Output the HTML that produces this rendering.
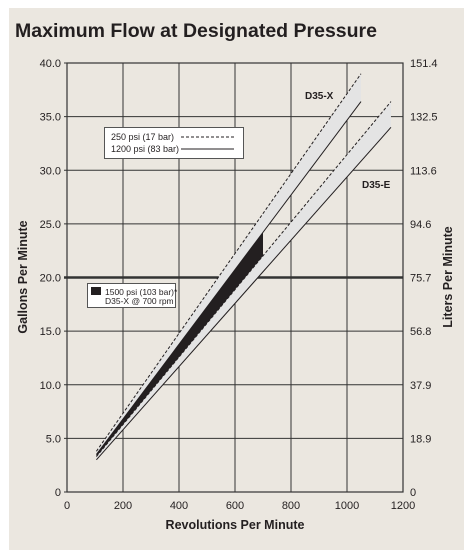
<!DOCTYPE html>
<html><head><meta charset="utf-8"><style>
body{margin:0;background:#fff;width:468px;height:554px;overflow:hidden;font-family:"Liberation Sans",sans-serif}
#panel{position:absolute;left:9px;top:8px;width:455px;height:542px;background:#ebe7e0}
svg{position:absolute;left:0;top:0}
</style></head><body>
<div id="panel"></div>
<svg id="c" width="468" height="554">
<text x="15" y="37" font-size="19.5" font-weight="bold" fill="#231f20" textLength="362">Maximum Flow at Designated Pressure</text>
</svg>
<script>
const xTicks=[0,200,400,600,800,1000,1200];
const yTicks=[0,5,10,15,20,25,30,35,40];
const yTickLabels=["0","5.0","10.0","15.0","20.0","25.0","30.0","35.0","40.0"];
const rightLabels=["0","18.9","37.9","56.8","75.7","94.6","113.6","132.5","151.4"];
const rpmRange=[105,1050];
const x250=[3.8,39.0];
const x1200=[3.5,36.4];
const eRange=[105,1157];
const e250=[3.3,36.4];
const e1200=[3.0,34.0];
const blackEnd=700;
const L=67,R=403,T=63,B=492;
const sx=v=>L+(v/1200)*(R-L), sy=v=>B-(v/40)*(B-T);
const svg=document.getElementById('c');const NS='http://www.w3.org/2000/svg';
function el(t,a,p){const e=document.createElementNS(NS,t);for(const k in a)e.setAttribute(k,a[k]);(p||svg).appendChild(e);return e;}
const lerp=(r,v,x)=>v[0]+(v[1]-v[0])*(x-r[0])/(r[1]-r[0]);
xTicks.forEach((t,i)=>{
 const g=el('line',{x1:sx(t),x2:sx(t),y1:T,y2:B,stroke:'#333','stroke-width':1});
 
 
 const tx=el('text',{x:sx(t),y:B+17,'font-size':11,'text-anchor':'middle',fill:'#231f20'});tx.textContent=t;
 
 
});
yTicks.forEach((t,i)=>{
 const g=el('line',{x1:L-3,x2:R,y1:sy(t),y2:sy(t),stroke:'#333','stroke-width':t==20?2.5:1});
 
 
 const tx=el('text',{x:L-6,y:sy(t)+4,'font-size':11,'text-anchor':'end',fill:'#231f20'});tx.textContent=yTickLabels[i];
 
 
 const rx=el('text',{x:R+7,y:sy(t)+4,'font-size':11,fill:'#231f20'});rx.textContent=rightLabels[i];
 
 
});
el('rect',{x:L,y:T,width:R-L,height:B-T,fill:'none',stroke:'#333','stroke-width':1.2});
function band(r,a,b,name){
 const p=el('polygon',{points:`${sx(r[0])},${sy(a[0])} ${sx(r[1])},${sy(a[1])} ${sx(r[1])},${sy(b[1])} ${sx(r[0])},${sy(b[0])}`,fill:'#e4e4e4'});
 
 
}
band(rpmRange,x250,x1200,'d35-x-band');band(eRange,e250,e1200,'d35-e-band');
const bt=lerp(rpmRange,x1200,blackEnd),bb=lerp(eRange,e250,blackEnd);
const bk=el('polygon',{points:`${sx(rpmRange[0])},${sy(x1200[0])} ${sx(blackEnd)},${sy(bt)} ${sx(blackEnd)},${sy(bb)} ${sx(eRange[0])},${sy(e250[0])}`,fill:'#231f20'});


function line(r,v,dash,name){
 const l=el('line',{x1:sx(r[0]),y1:sy(v[0]),x2:sx(r[1]),y2:sy(v[1]),stroke:'#231f20','stroke-width':1,'stroke-dasharray':dash?'3,2':'none'});
 
 
}
line(rpmRange,x250,true,'d35-x-250psi-line');line(rpmRange,x1200,false,'d35-x-1200psi-line');
line(eRange,e250,true,'d35-e-250psi-line');line(eRange,e1200,false,'d35-e-1200psi-line');
function txt(x,y,s,a,name){const t=el('text',Object.assign({x:x,y:y,fill:'#231f20'},a));t.textContent=s;
 
 return t;}
txt(305,99,'D35-X',{'font-size':10,'font-weight':'bold'},'d35-x-label');
txt(362,188,'D35-E',{'font-size':10,'font-weight':'bold'},'d35-e-label');
const lg=el('rect',{x:104.5,y:127.5,width:139,height:31,fill:'#fff',stroke:'#555'});


txt(111,140,'250 psi (17 bar)',{'font-size':9},'legend-250psi');
txt(111,152,'1200 psi (83 bar)',{'font-size':9},'legend-1200psi');
el('line',{x1:181,x2:234,y1:137,y2:137,stroke:'#231f20','stroke-dasharray':'3,2'});
el('line',{x1:181,x2:234,y1:149,y2:149,stroke:'#231f20'});
const lg2=el('rect',{x:87.5,y:283.5,width:88,height:24,fill:'#fff',stroke:'#555'});


el('rect',{x:91,y:287,width:10,height:8,fill:'#231f20'});
txt(105,295,'1500 psi (103 bar)*',{'font-size':8.5},'legend-1500psi');
txt(105,304,'D35-X @ 700 rpm',{'font-size':8.5},'legend-700rpm');
txt(235,529,'Revolutions Per Minute',{'font-size':12.5,'font-weight':'bold','text-anchor':'middle'},'x-axis-title');
txt(0,0,'Gallons Per Minute',{'font-size':12.5,'font-weight':'bold','text-anchor':'middle',transform:`translate(27,277) rotate(-90)`},'y-axis-title');
txt(0,0,'Liters Per Minute',{'font-size':12.5,'font-weight':'bold','text-anchor':'middle',transform:`translate(452,277) rotate(-90)`},'right-axis-title');
</script>
</body></html>
